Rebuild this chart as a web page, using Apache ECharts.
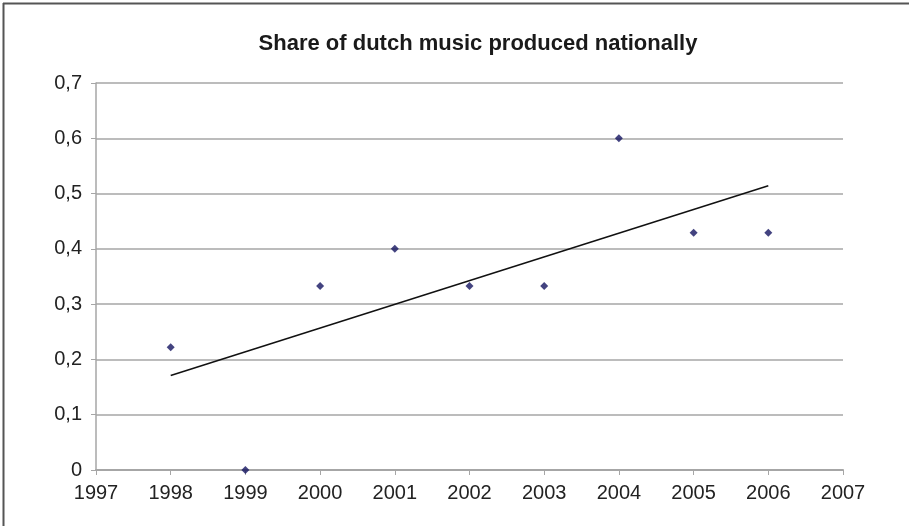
<!DOCTYPE html>
<html>
<head>
<meta charset="utf-8">
<script src="https://cdn.jsdelivr.net/npm/echarts@6/dist/echarts.min.js"></script>
<style>
  html, body { margin: 0; padding: 0; background: #fff; }
  #chart { width: 909px; height: 526px; }
</style>
</head>
<body>
<div id="chart"></div>
<script>
// Yearly share of Dutch music that was produced in the Netherlands
var years = [1998, 1999, 2000, 2001, 2002, 2003, 2004, 2005, 2006];
var shares = [0.222, 0, 0.333, 0.4, 0.333, 0.333, 0.6, 0.429, 0.429];

// Linear trend line end points (first and last year)
var trendYears = [1998, 2006];
var trendValues = [0.171, 0.514];

var yTickLabels = ['0', '0,1', '0,2', '0,3', '0,4', '0,5', '0,6', '0,7'];

var points = years.map(function (y, i) { return [y, shares[i]]; });
var trend = trendYears.map(function (y, i) { return [y, trendValues[i]]; });

var chart = echarts.init(document.getElementById('chart'), null, { renderer: 'canvas' });
var font = 'Liberation Sans, Arial, sans-serif';

chart.setOption({
  animation: false,
  backgroundColor: '#ffffff',
  title: {
    text: 'Share of dutch music produced nationally',
    left: 473,
    top: 28,
    textAlign: 'center',
    textStyle: { fontFamily: font, fontSize: 22, fontWeight: 'bold', color: '#1a1a1a' }
  },
  graphic: [
    { type: 'line', shape: { x1: 3, y1: 3.5, x2: 909, y2: 3.5 }, style: { stroke: '#555', lineWidth: 2 } },
    { type: 'line', shape: { x1: 3.5, y1: 3, x2: 3.5, y2: 526 }, style: { stroke: '#555', lineWidth: 2 } }
  ],
  grid: { left: 96, right: 66, top: 83, bottom: 56 },
  xAxis: {
    type: 'value',
    min: 1997,
    max: 2007,
    interval: 1,
    splitLine: { show: false },
    axisLine: { lineStyle: { color: '#a6a6a6', width: 2 } },
    axisTick: { show: true, length: 5, lineStyle: { color: '#a6a6a6', width: 1 } },
    axisLabel: {
      margin: 13,
      fontFamily: font,
      fontSize: 20,
      color: '#222',
      formatter: function (v) { return String(v); }
    }
  },
  yAxis: {
    type: 'value',
    min: 0,
    max: 0.7,
    interval: 0.1,
    splitLine: { show: true, lineStyle: { color: '#a6a6a6', width: 1.5 } },
    axisLine: { show: true, lineStyle: { color: '#a6a6a6', width: 1.5 } },
    axisTick: { show: true, length: 5, lineStyle: { color: '#a6a6a6', width: 1 } },
    axisLabel: {
      margin: 14,
      fontFamily: font,
      fontSize: 20,
      color: '#222',
      formatter: function (v) { return yTickLabels[Math.round(v * 10)]; }
    }
  },
  series: [
    {
      type: 'line',
      data: trend,
      symbol: 'none',
      lineStyle: { color: '#111', width: 1.5 },
      z: 2
    },
    {
      type: 'scatter',
      data: points,
      symbol: 'diamond',
      symbolSize: 8,
      itemStyle: { color: '#141460' },
      z: 3
    }
  ]
});
</script>
</body>
</html>
